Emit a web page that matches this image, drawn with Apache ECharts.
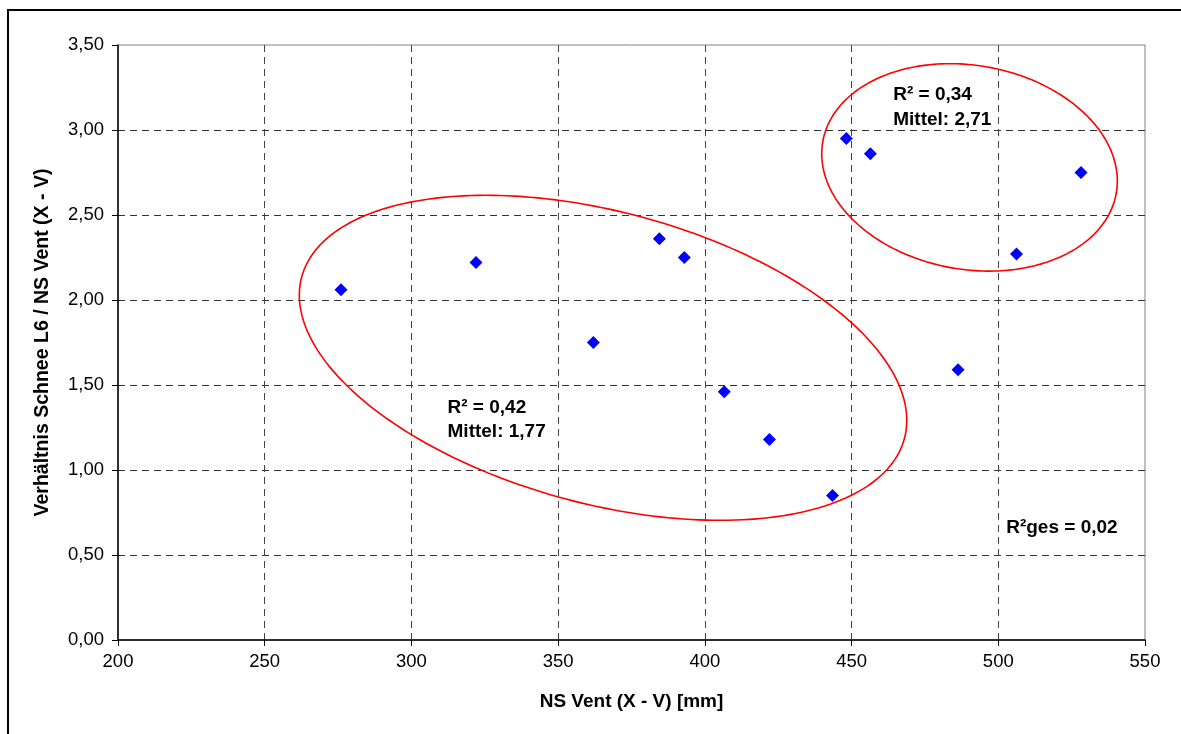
<!DOCTYPE html>
<html>
<head>
<meta charset="utf-8">
<script src="https://cdn.jsdelivr.net/npm/echarts@6/dist/echarts.min.js"></script>
<style>
  html, body { margin: 0; padding: 0; background: #fff; }
  #chart { width: 1181px; height: 734px; }
</style>
</head>
<body>
<div id="chart"></div>
<script>
// Niederschlag Vent (X - V) in mm vs. ratio of snow depth L6 to precipitation
const nsVent = [276, 322, 362, 384.5, 393, 406.6, 422, 443.5, 448.2, 456.4, 486.3, 506.2, 528.2];
const verhaeltnis = [2.06, 2.22, 1.75, 2.36, 2.25, 1.46, 1.18, 0.85, 2.95, 2.86, 1.59, 2.27, 2.75];

const xTicks = [200, 250, 300, 350, 400, 450, 500, 550];
const yTicks = [0, 0.5, 1, 1.5, 2, 2.5, 3, 3.5];

// Cluster annotations: text lines anchored in data coordinates
const notes = [
  { x: 312.3, y: 1.365, text: 'R² = 0,42' },
  { x: 312.3, y: 1.225, text: 'Mittel: 1,77' },
  { x: 464.2, y: 3.205, text: 'R² = 0,34' },
  { x: 464.2, y: 3.058, text: 'Mittel: 2,71' },
  { x: 502.7, y: 0.663, text: 'R²ges = 0,02' }
];

// Cluster outlines: centre in data coordinates, semi-axes in pixels, tilt in degrees
const outlines = [
  { cx: 365.3, cy: 1.66, a: 312, b: 146, tilt: 15 },
  { cx: 490.2, cy: 2.78, a: 149, b: 102, tilt: 10 }
];

const FONT = '"Liberation Sans", Arial, sans-serif';
const chart = echarts.init(document.getElementById('chart'), null, { renderer: 'canvas' });

const points = nsVent.map((x, i) => [x, verhaeltnis[i]]);
const fmtY = v => v.toFixed(2).replace('.', ',');

chart.setOption({
  animation: false,
  backgroundColor: '#fff',
  grid: {
    left: 118, top: 45, right: 36, bottom: 94,
    show: true, borderColor: '#808080', borderWidth: 1, backgroundColor: 'transparent'
  },
  xAxis: {
    type: 'value', min: xTicks[0], max: xTicks[xTicks.length - 1], interval: 50,
    name: 'NS Vent (X - V) [mm]', nameLocation: 'middle', nameGap: 52,
    nameTextStyle: { fontFamily: FONT, fontSize: 19, fontWeight: 'bold', color: '#000' },
    axisLine: { show: true, onZero: false, lineStyle: { color: '#000', width: 1.5 } },
    axisTick: { show: true, length: 6, lineStyle: { color: '#000' } },
    axisLabel: { fontFamily: FONT, fontSize: 18.5, color: '#000', margin: 12 },
    splitLine: { show: true, showMinLine: false, showMaxLine: false,
                 lineStyle: { color: '#444', type: [7, 5], width: 1 } }
  },
  yAxis: {
    type: 'value', min: yTicks[0], max: yTicks[yTicks.length - 1], interval: 0.5,
    name: 'Verhältnis Schnee L6 / NS Vent (X - V)', nameLocation: 'middle', nameGap: 65,
    nameTextStyle: { fontFamily: FONT, fontSize: 19.5, fontWeight: 'bold', color: '#000' },
    axisLine: { show: true, onZero: false, lineStyle: { color: '#000', width: 1.5 } },
    axisTick: { show: true, length: 6, lineStyle: { color: '#000' } },
    axisLabel: { fontFamily: FONT, fontSize: 18.5, color: '#000', margin: 14, formatter: fmtY },
    splitLine: { show: true, showMinLine: false, showMaxLine: false,
                 lineStyle: { color: '#333', type: [7, 5], width: 1 } }
  },
  series: [{
    type: 'scatter',
    data: points,
    symbol: 'diamond',
    symbolSize: 13,
    itemStyle: { color: '#0000ff', opacity: 1 },
    z: 5
  }]
});

function buildGraphics() {
  const els = [];
  // outer frame
  els.push({
    type: 'rect', silent: true, z: 100,
    shape: { x: 8, y: 10, width: 1300, height: 900 },
    style: { fill: null, stroke: '#000', lineWidth: 2 }
  });
  outlines.forEach(o => {
    const c = chart.convertToPixel({ gridIndex: 0 }, [o.cx, o.cy]);
    const th = o.tilt * Math.PI / 180;
    const pts = [];
    for (let k = 0; k < 240; k++) {
      const t = k / 240 * Math.PI * 2;
      const ex = o.a * Math.cos(t), ey = o.b * Math.sin(t);
      pts.push([c[0] + ex * Math.cos(th) - ey * Math.sin(th),
                c[1] + ex * Math.sin(th) + ey * Math.cos(th)]);
    }
    els.push({
      type: 'polygon', silent: true, z: 50,
      shape: { points: pts },
      style: { fill: null, stroke: '#ff0000', lineWidth: 1.6 }
    });
  });
  notes.forEach(n => {
    const p = chart.convertToPixel({ gridIndex: 0 }, [n.x, n.y]);
    els.push({
      type: 'text', silent: true, z: 60,
      x: p[0], y: p[1],
      style: {
        text: n.text, fill: '#000',
        font: 'bold 19px ' + FONT,
        textAlign: 'left', textVerticalAlign: 'middle'
      }
    });
  });
  chart.setOption({ graphic: { elements: els } });
}
buildGraphics();
</script>
</body>
</html>
